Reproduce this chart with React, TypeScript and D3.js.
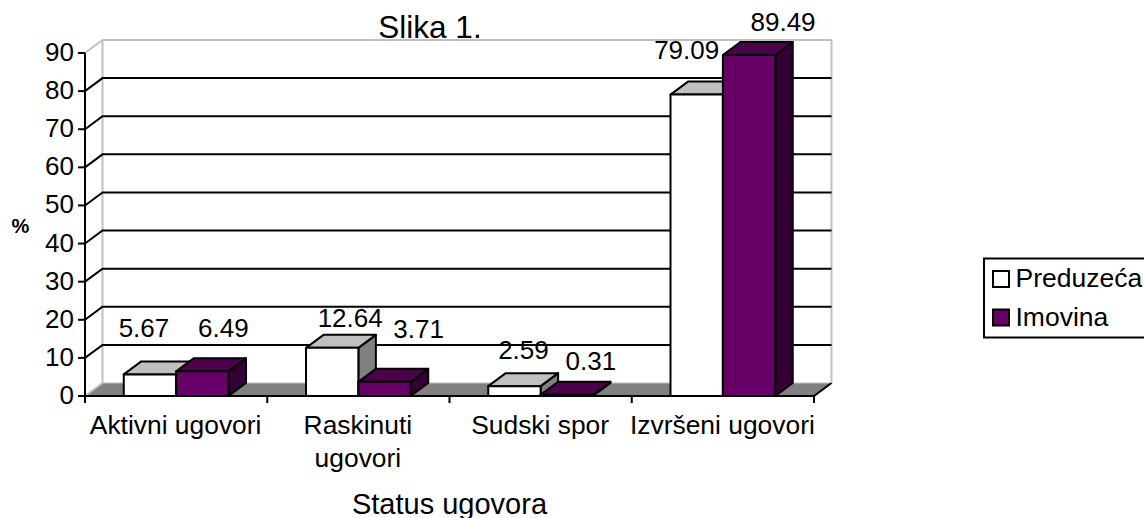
import React from "react";
import * as d3 from "d3";

const categories = ["Aktivni ugovori", "Raskinuti ugovori", "Sudski spor", "Izvršeni ugovori"];
const categoryLines = [["Aktivni ugovori"], ["Raskinuti", "ugovori"], ["Sudski spor"], ["Izvršeni ugovori"]];
const seriesNames = ["Preduzeća", "Imovina"];
const preduzeca = [5.67, 12.64, 2.59, 79.09];
const imovina = [6.49, 3.71, 0.31, 89.49];
const yTicks = [0, 10, 20, 30, 40, 50, 60, 70, 80, 90];
const seriesValues = [preduzeca, imovina];

// label nudges relative to the front-face centre and top of each bar
const labelDx = [[-6, 18, 9, -10], [21, 34, 24, 34]];
const labelDy = [[37, 21, 27, 36], [34, 44, 25, 24]];

const faceColors = [
  { front: "#ffffff", top: "#c0c0c0", side: "#808080" },
  { front: "#660066", top: "#4c004c", side: "#330033" },
];

const FONT = "'Liberation Sans', Arial, sans-serif";
const DX = 17.5;
const DY = 13;
const LABEL_SIZE = 26;

export default function App() {
  const y = d3.scaleLinear().domain([0, 90]).range([396, 53]);
  const x = d3.scaleBand<string>().domain(categories).range([85, 814]);
  const inner = d3
    .scaleBand<string>()
    .domain(seriesNames)
    .range([0, x.bandwidth()])
    .paddingInner(0)
    .paddingOuter(0.74);
  const left = x.range()[0];
  const right = x.range()[1];
  const poly = (pts: number[][]) => pts.map((p) => p.join(",")).join(" ");

  return (
    <svg
      width={1144}
      height={518}
      style={{ position: "absolute", left: 0, top: 0, display: "block" }}
      fontFamily={FONT}
    >
      <rect width={1144} height={518} fill="#fff" />

      {/* floor */}
      <polygon
        points={poly([
          [left, y(0)],
          [left + DX, y(0) - DY],
          [right + DX, y(0) - DY],
          [right, y(0)],
        ])}
        fill="#808080"
      />
      <line x1={left} y1={y(0)} x2={left + DX} y2={y(0) - DY} stroke="#c0c0c0" strokeWidth={2} />
      <line x1={left + DX} y1={y(0) - DY} x2={right + DX} y2={y(0) - DY} stroke="#c0c0c0" strokeWidth={1} />
      <line x1={right} y1={y(0)} x2={right + DX} y2={y(0) - DY} stroke="#000" strokeWidth={2} />

      {/* walls */}
      <line x1={left + DX} y1={y(90) - DY} x2={left + DX} y2={y(0) - DY} stroke="#c0c0c0" strokeWidth={2} />
      <line x1={right + DX} y1={y(90) - DY} x2={right + DX} y2={y(0) - DY} stroke="#c0c0c0" strokeWidth={2} />
      <line x1={left + DX} y1={y(90) - DY} x2={right + DX} y2={y(90) - DY} stroke="#c0c0c0" strokeWidth={2} />
      <line x1={left} y1={y(90)} x2={left + DX} y2={y(90) - DY} stroke="#c0c0c0" strokeWidth={2} />

      {/* gridlines */}
      {yTicks
        .filter((t) => t > 0 && t < 90)
        .map((t) => (
          <g key={t} stroke="#000" strokeWidth={2} fill="none">
            <polyline
              points={poly([
                [left, y(t)],
                [left + DX, y(t) - DY],
                [right + DX, y(t) - DY],
              ])}
            />
          </g>
        ))}

      {/* bars */}
      {categories.map((c, i) =>
        seriesNames.map((s, k) => {
          const v = seriesValues[k][i];
          const x0 = (x(c) as number) + (inner(s) as number);
          const x1 = x0 + inner.bandwidth();
          const yt = y(v);
          const yb = y(0);
          const col = faceColors[k];
          return (
            <g key={s + c} stroke="#000" strokeWidth={2} strokeLinejoin="round">
              <polygon
                points={poly([
                  [x1, yb],
                  [x1 + DX, yb - DY],
                  [x1 + DX, yt - DY],
                  [x1, yt],
                ])}
                fill={col.side}
              />
              <polygon
                points={poly([
                  [x0, yt],
                  [x0 + DX, yt - DY],
                  [x1 + DX, yt - DY],
                  [x1, yt],
                ])}
                fill={col.top}
              />
              <rect x={x0} y={yt} width={x1 - x0} height={yb - yt} fill={col.front} />
            </g>
          );
        })
      )}

      {/* axes */}
      <line x1={left} y1={y(90)} x2={left} y2={y(0)} stroke="#000" strokeWidth={2} />
      <line x1={left - 7} y1={y(0)} x2={right} y2={y(0)} stroke="#000" strokeWidth={2} />
      {yTicks.map((t) => (
        <g key={t}>
          <line x1={left - 7} y1={y(t)} x2={left} y2={y(t)} stroke="#000" strokeWidth={2} />
          <text x={left - 11} y={y(t) + 8} textAnchor="end" fontSize={LABEL_SIZE} fill="#000">
            {t}
          </text>
        </g>
      ))}
      {[...categories.map((c) => x(c) as number), right].map((px) => (
        <line key={px} x1={px} y1={y(0)} x2={px} y2={y(0) + 7} stroke="#000" strokeWidth={2} />
      ))}
      {categories.map((c, i) =>
        categoryLines[i].map((ln, j) => (
          <text
            key={ln}
            x={(x(c) as number) + x.bandwidth() / 2 - 0.5}
            y={434 + j * 33}
            textAnchor="middle"
            fontSize={26.4}
            fill="#000"
          >
            {ln}
          </text>
        ))
      )}

      {/* value labels */}
      {categories.map((c, i) =>
        seriesNames.map((s, k) => {
          const v = seriesValues[k][i];
          const cx = (x(c) as number) + (inner(s) as number) + inner.bandwidth() / 2;
          return (
            <text
              key={s + c}
              x={cx + labelDx[k][i]}
              y={y(v) - labelDy[k][i]}
              textAnchor="middle"
              fontSize={LABEL_SIZE}
              fill="#000"
            >
              {v.toFixed(2)}
            </text>
          );
        })
      )}

      {/* titles */}
      <text x={430} y={38} textAnchor="middle" fontSize={31.5} fill="#000">
        Slika 1.
      </text>
      <text x={449.5} y={513.5} textAnchor="middle" fontSize={29} fill="#000">
        Status ugovora
      </text>
      <text x={20.5} y={233} textAnchor="middle" fontSize={20} fontWeight="bold" fill="#000">
        %
      </text>

      {/* legend */}
      <rect x={984} y={258.5} width={170} height={79} fill="#fff" stroke="#000" strokeWidth={2} />
      {seriesNames.map((s, k) => (
        <g key={s}>
          <rect x={993} y={271 + k * 38.5} width={16} height={16} fill={faceColors[k].front} stroke="#000" strokeWidth={2} />
          <text x={1015.5} y={287 + k * 39} fontSize={26.5} fill="#000">
            {s}
          </text>
        </g>
      ))}
    </svg>
  );
}
